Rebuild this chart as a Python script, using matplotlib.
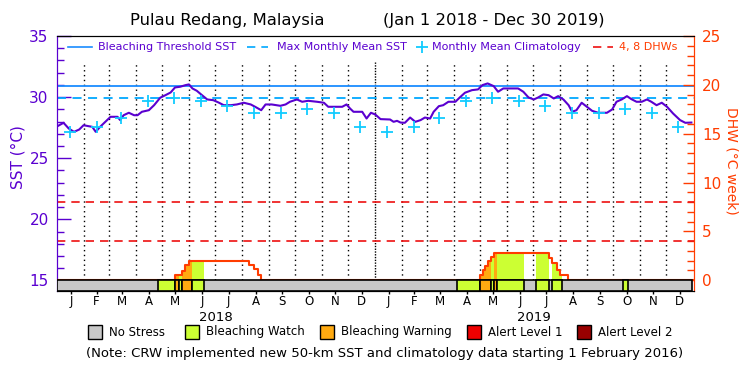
import numpy as np
import matplotlib
matplotlib.use("Agg")
import matplotlib.pyplot as plt
from matplotlib.lines import Line2D
from matplotlib.patches import Rectangle

# x values are days counted from 1 Jan 2018
sst_days = [0, 7, 13, 19, 25, 30, 36, 40, 44, 49,
            55, 61, 69, 72, 76, 82, 88, 92, 97, 105,
            111, 118, 124, 130, 135, 141, 147, 151, 155, 160,
            166, 172, 179, 185, 191, 199, 206, 214, 222, 227,
            234, 239, 246, 256, 262, 267, 275, 281, 288, 298,
            306, 311, 317, 327, 332, 336, 340, 350, 355, 360,
            365, 371, 382, 386, 390, 394, 399, 405, 411, 417,
            422, 428, 432, 438, 443, 449, 457, 462, 468, 476,
            483, 488, 494, 501, 506, 512, 520, 529, 535, 541,
            547, 552, 558, 564, 570, 575, 581, 587, 591, 596,
            602, 608, 614, 621, 631, 637, 642, 648, 654, 659,
            665, 671, 677, 682, 688, 694, 700, 707, 715, 721,
            728]
sst_values = [27.62, 27.90, 27.43, 27.16, 27.35, 27.70, 27.62, 27.57, 27.16, 27.57,
              27.98, 28.39, 28.39, 28.12, 28.52, 28.72, 28.52, 28.52, 28.80, 28.93,
              29.34, 29.95, 30.16, 30.38, 30.79, 30.85, 30.98, 31.04, 30.71, 30.52,
              30.16, 29.81, 29.75, 29.56, 29.34, 29.34, 29.40, 29.54, 29.40, 29.21,
              28.93, 29.40, 29.40, 29.29, 29.40, 29.62, 29.81, 29.62, 29.70, 29.62,
              29.54, 29.21, 29.21, 29.21, 29.40, 29.07, 28.80, 28.80, 28.25, 28.72,
              28.58, 28.20, 28.17, 27.98, 28.06, 27.92, 27.90, 28.33, 27.98, 28.12,
              28.33, 28.25, 28.80, 29.26, 29.34, 29.62, 29.62, 29.97, 30.36, 30.57,
              30.63, 30.98, 31.12, 30.90, 30.44, 30.71, 30.71, 30.71, 30.44, 29.97,
              29.81, 29.97, 30.22, 30.16, 29.89, 30.08, 29.81, 29.34, 28.80, 28.93,
              29.54, 29.21, 28.88, 28.72, 28.72, 28.99, 29.62, 29.81, 30.08, 29.84,
              29.62, 29.62, 29.81, 29.62, 29.34, 29.54, 29.21, 28.66, 28.12, 27.90,
              27.92]

clim_months = ["Jan", "Feb", "Mar", "Apr", "May", "Jun",
               "Jul", "Aug", "Sep", "Oct", "Nov", "Dec"]
clim_values = [27.16, 27.57, 28.33, 29.67, 29.89, 29.70,
               29.26, 28.74, 28.74, 28.99, 28.74, 27.57]

mmm = 29.95
threshold = 30.95
dhw_marks = [4, 8]

# DHW, held from each day until the next
dhw_days = [0, 135, 143, 147, 151, 220, 226, 230, 234,
            485, 489, 491, 494, 498, 501, 564, 568, 574, 577, 586, 731]
dhw_values = [0, 0.5, 0.9, 1.6, 2.0, 1.6, 1.2, 0.5, 0,
              0.5, 1.0, 1.5, 2.0, 2.4, 2.75, 2.3, 1.8, 1.0, 0.5, 0, 0]

# stress periods: start day, end day, level (1 watch, 2 warning)
stress_start = [115, 135, 140, 143, 155, 459, 485, 498, 501, 505, 550, 568, 649]
stress_end = [135, 140, 143, 155, 168, 485, 498, 501, 505, 536, 564, 579, 655]
stress_level = [1, 2, 1, 2, 1, 1, 2, 1, 2, 1, 1, 1, 1]

stress_names = ["No Stress", "Bleaching Watch", "Bleaching Warning",
                "Alert Level 1", "Alert Level 2"]
stress_colors = ["#c8c8c8", "#ccff33", "#ffaa11", "#ee0000", "#990000"]

purple = "#5a00d0"
orange = "#ff3c00"
thr_color = "#1a8cff"
mmm_color = "#00a8ff"
clim_color = "#11ccff"
dhw_red = "#ee1111"
dash = (5, 3.6)

W, H = 750, 375


def fx(px):
    return px / W


def fy(py):
    return 1 - py / H


start = np.datetime64("2018-01-01")
month_starts = np.arange("2018-01", "2020-02", dtype="datetime64[M]").astype("datetime64[D]")
month_days = (month_starts - start).astype(int)
mid_days = (month_days[:-1] + month_days[1:]) / 2
clim_x = (month_starts[:-1] + 14 - start).astype(int)

fig = plt.figure(figsize=(7.5, 3.75), dpi=100)
ax = fig.add_axes([fx(57), fy(291), (694 - 57) / W, 255 / H])
ax2 = ax.twinx()

ax.set_xlim(-0.5, 731)
ax.set_ylim(14.14, 35)
ax2.set_ylim(-1.1, 25)

# month dividers
for d in month_days[1:-1]:
    ls = (0, (1, 1)) if d == 365 else (0, (1, 2.5))
    ax.plot([d, d], [15, 32.9], color="black", lw=1, ls=ls, zorder=1)

ax.axhline(threshold, color=thr_color, lw=1.3, zorder=2)
ax.axhline(mmm, color=mmm_color, lw=1.3, dashes=dash, zorder=2)
ax.plot(sst_days, sst_values, color=purple, lw=1.5, zorder=4)
ax.plot(clim_x, clim_values * 2, ls="none", marker="+", ms=9, mew=1.3,
        color=clim_color, zorder=5)

for m in dhw_marks:
    ax2.axhline(m, color=dhw_red, lw=1.2, dashes=dash, zorder=2)

# fill under DHW in stress colours
dhw_days_arr = np.array(dhw_days)
dhw_vals_arr = np.array(dhw_values)
for s, e, lev in zip(stress_start, stress_end, stress_level):
    xs = np.arange(s, e + 1)
    ys = dhw_vals_arr[np.searchsorted(dhw_days_arr, xs, side="right") - 1]
    ax2.fill_between(xs, 0, ys, step="post", color=stress_colors[lev], lw=0, zorder=2)
ax2.step(dhw_days, dhw_values, where="post", color=orange, lw=1.5, zorder=3)

# stress bar
ax2.add_patch(Rectangle((0, -1.1), 729, 1.1, facecolor=stress_colors[0],
                        edgecolor="black", lw=1.2, zorder=6))
for s, e, lev in zip(stress_start, stress_end, stress_level):
    ax2.add_patch(Rectangle((s, -1.1), e - s, 1.1, facecolor=stress_colors[lev],
                            edgecolor="black", lw=1.2, zorder=7))

# axes styling
ax.set_yticks([15, 20, 25, 30, 35])
ax.set_yticks(np.arange(15, 36), minor=True)
ax.tick_params(axis="y", which="major", direction="in", length=10, width=1,
               color=purple, labelcolor=purple, labelsize=11, pad=6)
ax.tick_params(axis="y", which="minor", direction="in", length=5, width=1, color=purple)
ax2.set_yticks([0, 5, 10, 15, 20, 25])
ax2.set_yticks(np.arange(0, 26), minor=True)
ax2.tick_params(axis="y", which="major", direction="in", length=8, width=1,
                color=orange, labelcolor=orange, labelsize=11, pad=6)
ax2.tick_params(axis="y", which="minor", direction="in", length=5, width=1, color=orange)

ax.set_xticks(mid_days)
ax.set_xticklabels([m[0] for m in clim_months] * 2)
ax.tick_params(axis="x", direction="out", length=2, width=1, labelsize=8.5, pad=1)

for a in (ax, ax2):
    a.spines["left"].set_color(purple)
    a.spines["right"].set_color(orange)
    a.spines["top"].set_color("black")
    a.spines["bottom"].set_color("black")

for yr, d in zip(["2018", "2019"], [182, 547]):
    ax.text(d, -0.102, yr, transform=ax.get_xaxis_transform(),
            ha="center", va="center", fontsize=9.5)

fig.text(fx(18), fy(157), "SST (\u00b0C)", rotation=90, color=purple,
         ha="center", va="center", fontsize=11)
fig.text(fx(732), fy(161), "DHW (\u00b0C week)", rotation=270, color=orange,
         ha="center", va="center", fontsize=10)

# title
fig.text(fx(227), fy(20), "Pulau Redang, Malaysia", ha="center", va="center", fontsize=11.8)
fig.text(fx(494), fy(20), "(Jan 1 2018 - Dec 30 2019)", ha="center", va="center", fontsize=11.8)

# legend inside the top of the plot
ly = fy(47)
fig.add_artist(Line2D([fx(68), fx(92)], [ly, ly], color=thr_color, lw=1.2))
fig.text(fx(98), ly, "Bleaching Threshold SST", color=purple, va="center", fontsize=8)
fig.add_artist(Line2D([fx(247), fx(268)], [ly, ly], color=mmm_color, lw=1.2, dashes=dash))
fig.text(fx(277), ly, "Max Monthly Mean SST", color=purple, va="center", fontsize=8)
fig.add_artist(Line2D([fx(422)], [ly], color=clim_color, marker="+", ms=8, mew=1.3))
fig.text(fx(432), ly, "Monthly Mean Climatology", color=purple, va="center", fontsize=8)
fig.add_artist(Line2D([fx(593), fx(613)], [ly, ly], color=dhw_red, lw=1.2, dashes=dash))
fig.text(fx(619), ly, "4, 8 DHWs", color=orange, va="center", fontsize=8)

# stress legend
box_x = [88, 185, 320, 467, 577]
for bx, name, col in zip(box_x, stress_names, stress_colors):
    fig.add_artist(Rectangle((fx(bx), fy(339)), 14 / W, 14 / H, facecolor=col,
                             edgecolor="black", lw=1, transform=fig.transFigure))
    fig.text(fx(bx + 21), fy(332), name, va="center", fontsize=8.5)

fig.text(fx(385), fy(354),
         "(Note: CRW implemented new 50-km SST and climatology data starting 1 February 2016)",
         ha="center", va="center", fontsize=9.5)

fig.savefig("out.png", dpi=100)
